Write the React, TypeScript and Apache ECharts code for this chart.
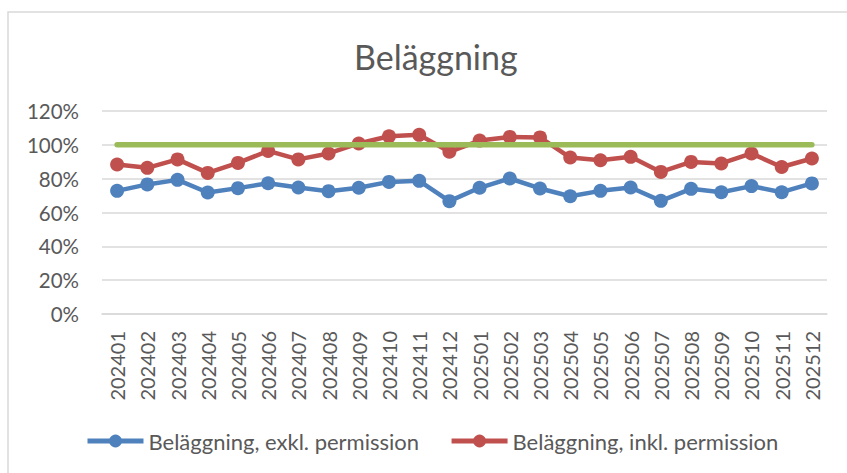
import React, { useEffect, useRef } from "react";
import * as echarts from "echarts";

const categories = [
  "202401", "202402", "202403", "202404", "202405", "202406",
  "202407", "202408", "202409", "202410", "202411", "202412",
  "202501", "202502", "202503", "202504", "202505", "202506",
  "202507", "202508", "202509", "202510", "202511", "202512",
];

const exklPermission = [
  72.8, 76.6, 79.3, 71.8, 74.4, 77.3, 74.8, 72.6, 74.6, 78.1, 78.7, 66.7,
  74.6, 80.1, 74.2, 69.6, 72.8, 74.8, 66.9, 74.0, 72.0, 75.6, 72.0, 77.2,
];

const inklPermission = [
  88.4, 86.4, 91.4, 83.4, 89.3, 96.4, 91.4, 94.9, 100.8, 105.1, 105.9, 95.9,
  102.5, 104.7, 104.4, 92.5, 90.9, 92.9, 84.0, 89.9, 89.0, 94.9, 86.9, 91.9,
];

const target = [
  100, 100, 100, 100, 100, 100, 100, 100, 100, 100, 100, 100,
  100, 100, 100, 100, 100, 100, 100, 100, 100, 100, 100, 100,
];

const FONT = "Lato";
const TEXT = "#595959";
const GRID = "#D9D9D9";

export default function App() {
  const ref = useRef<HTMLDivElement>(null);

  useEffect(() => {
    if (!ref.current) return;
    const chart = echarts.init(ref.current, null, { renderer: "svg" });
    chart.setOption({
      animation: false,
      backgroundColor: "#ffffff",
      textStyle: { fontFamily: FONT },
      graphic: [
        {
          type: "rect",
          shape: { x: 8, y: 12, width: 900, height: 520 },
          style: { fill: "none", stroke: GRID, lineWidth: 1.5 },
          silent: true,
          z: -10,
        },
      ],
      title: {
        text: "Beläggning",
        left: 349,
        top: 34,
        textStyle: { fontFamily: FONT, fontSize: 34, fontWeight: "normal", color: TEXT },
      },
      legend: {
        data: ["Beläggning, exkl. permission", "Beläggning, inkl. permission"],
        left: 80,
        top: 425,
        itemWidth: 56,
        itemHeight: 16,
        itemGap: 30,
        lineStyle: { width: 5 },
        textStyle: { fontFamily: FONT, fontSize: 22, color: TEXT },
      },
      grid: { left: 102, right: 20, top: 111, bottom: 159 },
      xAxis: {
        type: "category",
        data: categories,
        boundaryGap: true,
        axisLine: { show: true, lineStyle: { color: GRID, width: 1.5 } },
        axisTick: { show: false },
        axisLabel: {
          rotate: 90,
          margin: 17,
          interval: 0,
          fontFamily: FONT,
          fontSize: 20,
          color: TEXT,
        },
      },
      yAxis: {
        type: "value",
        min: 0,
        max: 120,
        interval: 20,
        axisLine: { show: false },
        axisTick: { show: false },
        splitLine: { lineStyle: { color: GRID, width: 1.5 } },
        axisLabel: {
          formatter: "{value}%",
          margin: 23,
          fontFamily: FONT,
          fontSize: 20.5,
          color: TEXT,
        },
      },
      series: [
        {
          name: "Beläggning, exkl. permission",
          type: "line",
          data: exklPermission,
          symbol: "circle",
          symbolSize: 14,
          itemStyle: { color: "#4F81BD" },
          lineStyle: { color: "#4F81BD", width: 4.5 },
          z: 2,
        },
        {
          name: "Beläggning, inkl. permission",
          type: "line",
          data: inklPermission,
          symbol: "circle",
          symbolSize: 14,
          itemStyle: { color: "#C0504D" },
          lineStyle: { color: "#C0504D", width: 4.5 },
          z: 3,
        },
        {
          name: "Mål",
          type: "line",
          data: target,
          symbol: "none",
          itemStyle: { color: "#9BBB59" },
          lineStyle: { color: "#9BBB59", width: 5.5, cap: "round" },
          z: 4,
        },
      ],
    });
    return () => chart.dispose();
  }, []);

  return (
    <div
      ref={ref}
      style={{ position: "fixed", left: 0, top: 0, width: 847, height: 473 }}
    />
  );
}
